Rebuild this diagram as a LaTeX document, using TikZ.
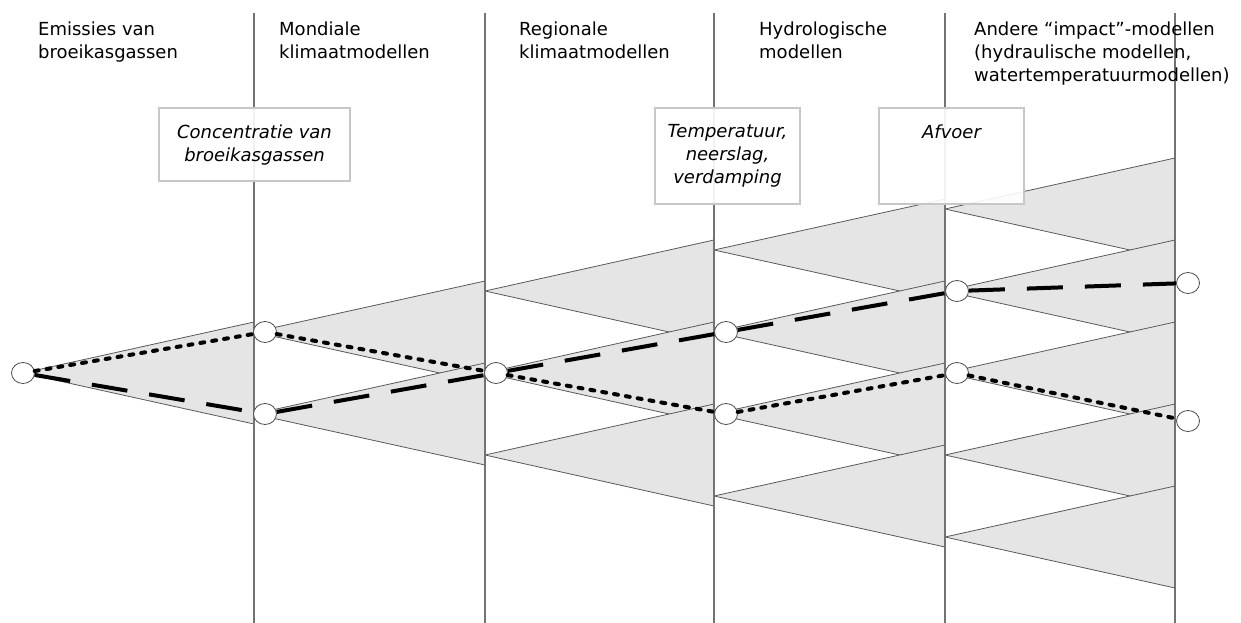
\documentclass[tikz,border=0pt]{standalone}
\usepackage{fontspec}
\setmainfont{DejaVu Sans}
\usetikzlibrary{positioning,shapes.geometric}

\begin{document}
\begin{tikzpicture}[x=1pt,y=-1pt,
    column/.style={black!55,line width=1.2pt},
    fan/.style={draw=black!65,fill=black!10,line width=0.8pt,line join=round},
    infobox/.style={draw=black!22,fill=white,fill opacity=0.9,line width=2pt,inner sep=0pt},
    header/.style={anchor=north west,inner sep=0pt,align=left,font=\fontsize{18}{23}\selectfont},
    boxtext/.style={inner sep=0pt,align=center,font=\fontsize{18}{23}\selectfont\itshape},
    choice/.style={ellipse,draw=black!70,fill=white,line width=0.8pt,minimum width=23pt,minimum height=21pt,inner sep=0pt},
    dotpath/.style={line width=4pt,line cap=round,dash pattern=on 4pt off 8pt},
    dashpath/.style={line width=4pt,dash pattern=on 36pt off 22pt}]
    \useasboundingbox (0,0) rectangle (1241,623);

    \filldraw [fan] (23,373) -- (254,322) -- (254,424) -- cycle;

    \filldraw [fan] (254,332) -- (485,281) -- (485,383) -- cycle;
    \filldraw [fan] (254,414) -- (485,363) -- (485,465) -- cycle;

    \filldraw [fan] (485,291) -- (714,240) -- (714,342) -- cycle;
    \filldraw [fan] (485,373) -- (714,322) -- (714,424) -- cycle;
    \filldraw [fan] (485,455) -- (714,404) -- (714,506) -- cycle;

    \filldraw [fan] (714,250) -- (945,199) -- (945,301) -- cycle;
    \filldraw [fan] (714,332) -- (945,281) -- (945,383) -- cycle;
    \filldraw [fan] (714,414) -- (945,363) -- (945,465) -- cycle;
    \filldraw [fan] (714,496) -- (945,445) -- (945,547) -- cycle;

    \filldraw [fan] (945,209) -- (1175,158) -- (1175,260) -- cycle;
    \filldraw [fan] (945,291) -- (1175,240) -- (1175,342) -- cycle;
    \filldraw [fan] (945,373) -- (1175,322) -- (1175,424) -- cycle;
    \filldraw [fan] (945,455) -- (1175,404) -- (1175,506) -- cycle;
    \filldraw [fan] (945,537) -- (1175,486) -- (1175,588) -- cycle;

    \draw [column] (254,13) -- (254,623);
    \draw [column] (485,13) -- (485,623);
    \draw [column] (714,13) -- (714,623);
    \draw [column] (945,13) -- (945,623);
    \draw [column] (1175,13) -- (1175,623);

    \node [header] (emishead) at (38,21.5)%
        {Emissies van\\broeikasgassen};
    \node [header] (globhead) at (279,21.5)%
        {Mondiale\\klimaatmodellen};
    \node [header] (reghead) at (519,21.5)%
        {Regionale\\klimaatmodellen};
    \node [header] (hydhead) at (759,21.5)%
        {Hydrologische\\modellen};
    \node [header] (imphead) at (974,21.5)%
        {Andere “impact”-modellen\\(hydraulische modellen,\\watertemperatuurmodellen)};

    \node [infobox,minimum width=191pt,minimum height=73pt] (conc) at (254.5,144.5) {};
    \node [infobox,minimum width=145pt,minimum height=96pt] (temp) at (727.5,156) {};
    \node [infobox,minimum width=145pt,minimum height=96pt] (afv) at (951.5,156) {};
    \node [boxtext,below=17.5pt of conc.north] (conctext)%
        {Concentratie van\\broeikasgassen};
    \node [boxtext,below=17.5pt of temp.north] (temptext)%
        {Temperatuur,\\neerslag,\\verdamping};
    \node [boxtext,below=17.5pt of afv.north] (afvtext)%
        {Afvoer};

    \node [choice] (emis) at (23,373) {};
    \node [choice] (glob1) at (265,332) {};
    \node [choice] (glob2) at (265,414) {};
    \node [choice] (reg) at (496,373) {};
    \node [choice] (hyd1) at (726,332) {};
    \node [choice] (hyd2) at (726,414) {};
    \node [choice] (imp1) at (957,291) {};
    \node [choice] (imp2) at (957,373) {};
    \node [choice] (out1) at (1188,283) {};
    \node [choice] (out2) at (1188,421) {};

    \draw [dotpath] (emis) -- (glob1) -- (reg) -- (hyd2) -- (imp2) -- (out2);
    \draw [dashpath] (emis) -- (glob2) -- (reg) -- (hyd1) -- (imp1) -- (out1);
\end{tikzpicture}
\end{document}
